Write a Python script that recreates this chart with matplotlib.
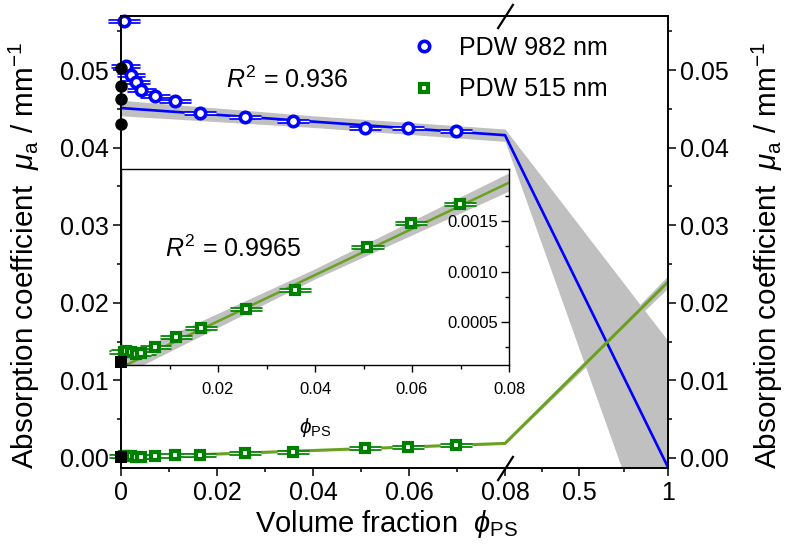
import numpy as np
import matplotlib
matplotlib.use('Agg')
import matplotlib.pyplot as plt
from matplotlib.ticker import FixedLocator, FixedFormatter, NullFormatter
from matplotlib.lines import Line2D
from matplotlib.path import Path

plt.rcParams['font.family'] = ['Liberation Sans', 'DejaVu Sans']
plt.rcParams['mathtext.fontset'] = 'custom'
plt.rcParams['mathtext.rm'] = 'Liberation Sans'
plt.rcParams['mathtext.it'] = 'Liberation Sans:italic'
plt.rcParams['mathtext.bf'] = 'Liberation Sans:bold'

# ---------------- data ----------------
phi_982 = [0.0006, 0.0010, 0.0021, 0.0031, 0.0042, 0.0071, 0.0113, 0.0165, 0.0258, 0.0358, 0.0508, 0.0598, 0.0698]
mu_982 = [0.0563, 0.0505, 0.0493, 0.0484, 0.0474, 0.0467, 0.0460, 0.0445, 0.0440, 0.0434, 0.0425, 0.0425, 0.0422]
xerr_982 = [0.0033, 0.0030, 0.0030, 0.0030, 0.0030, 0.0032, 0.0033, 0.0033, 0.0033, 0.0033, 0.0034, 0.0033, 0.0033]

phi_515 = [0.0006, 0.0010, 0.0021, 0.0031, 0.0042, 0.0071, 0.0113, 0.0165, 0.0258, 0.0358, 0.0508, 0.0598, 0.0698]
mu_515 = [0.00020, 0.00021, 0.00020, 0.00018, 0.00019, 0.00025, 0.00035, 0.00044, 0.00063, 0.00082, 0.00124, 0.00148, 0.00167]
xerr_515 = [0.0030, 0.0030, 0.0030, 0.0030, 0.0030, 0.0032, 0.0033, 0.0033, 0.0033, 0.0033, 0.0034, 0.0033, 0.0033]

water_phi_982 = [0, 0, 0, 0]
water_mu_982 = [0.0502, 0.0479, 0.0463, 0.0430]
water_phi_515 = [0]
water_mu_515 = [0.0001]

fit_x = [0, 0.08, 1]
fit_982 = [0.0451, 0.0416, -0.0012]
fit_515 = [0.00005, 0.00188, 0.0227]

band_x = [0, 0.04, 0.08, 1]
band_982_lo = [0.0441, 0.0426, 0.0408, -0.0180]
band_982_hi = [0.0461, 0.0441, 0.0424, 0.0151]
band_515_lo = [-0.00004, 0.00092, 0.00179, 0.0219]
band_515_hi = [0.00014, 0.00102, 0.00197, 0.0235]

xticks = [0, 0.02, 0.04, 0.06, 0.08, 0.5, 1]
xticklabels = ['0', '0.02', '0.04', '0.06', '0.08', '0.5', '1']
xminor = [0.01, 0.03, 0.05, 0.07, 0.29, 0.75]
yticks = [0.00, 0.01, 0.02, 0.03, 0.04, 0.05]
yticklabels = ['0.00', '0.01', '0.02', '0.03', '0.04', '0.05']
yminor = [0.005, 0.015, 0.025, 0.035, 0.045, 0.055]

in_xticks = [0.02, 0.04, 0.06, 0.08]
in_xticklabels = ['0.02', '0.04', '0.06', '0.08']
in_xminor = [0.01, 0.03, 0.05, 0.07]
in_yticks = [0.0005, 0.0010, 0.0015]
in_yticklabels = ['0.0005', '0.0010', '0.0015']
in_yminor = [0.00025, 0.00075, 0.00125, 0.00175]

# ---------------- style ----------------
BLUE = '#0000ff'
GREEN = '#008000'
LGREEN = '#6aa121'
GREY = '#c0c0c0'

BRK = 0.08
K = 0.0369


def fwd(x):
    x = np.asarray(x, dtype=float)
    return np.where(x <= BRK, x, BRK + (x - BRK) * K)


def inv(y):
    y = np.asarray(y, dtype=float)
    return np.where(y <= BRK, y, BRK + (y - BRK) / K)


fig = plt.figure(figsize=(7.88, 5.51), dpi=100)
W, H = 788, 551
L, R, T, B = 121, 668, 16, 468
ax = fig.add_axes([L / W, 1 - B / H, (R - L) / W, (B - T) / H])
ax.set_xscale('function', functions=(fwd, inv))
ax.set_xlim(0, 1)
ax.set_ylim(-0.00129, 0.05696)


def draw_series(a, phi, mu, xerr, color, marker, ms, mew):
    c1 = a.errorbar(phi, mu, xerr=xerr, fmt='none', ecolor=color, elinewidth=3.4,
                    capsize=0, zorder=3)
    c2 = a.errorbar(phi, mu, xerr=xerr, fmt='none', ecolor='white', elinewidth=0.9,
                    capsize=0, zorder=3.1)
    for c in (c1, c2):
        for art in c.lines[2]:
            art.set_clip_on(False)
    a.plot(phi, mu, ls='none', marker=marker, mfc='white', mec=color, ms=ms, mew=mew,
           zorder=4, clip_on=False)


# main bands & lines
ax.fill_between(band_x, band_982_lo, band_982_hi, color=GREY, lw=0, zorder=1)
ax.fill_between(band_x, band_515_lo, band_515_hi, color=GREY, lw=0, zorder=1)
ax.plot(fit_x, fit_982, color=BLUE, lw=1.9, zorder=2)
ax.plot(fit_x, fit_515, color=LGREEN, lw=2.2, zorder=2)

draw_series(ax, phi_982, mu_982, xerr_982, BLUE, 'o', 7.5, 2.6)
draw_series(ax, phi_515, mu_515, xerr_515, GREEN, 's', 6.3, 3.0)
ax.plot(water_phi_982, water_mu_982, ls='none', marker='o', color='black', ms=9, mew=0,
        zorder=5, clip_on=False)
ax.plot(water_phi_515, water_mu_515, ls='none', marker='s', color='black', ms=8.5, mew=0,
        zorder=5, clip_on=False)

# axes styling
for s in ax.spines.values():
    s.set_linewidth(1.2)
ax.xaxis.set_major_locator(FixedLocator(xticks))
ax.xaxis.set_major_formatter(FixedFormatter(xticklabels))
ax.xaxis.set_minor_locator(FixedLocator(xminor))
ax.xaxis.set_minor_formatter(NullFormatter())
ax.yaxis.set_major_locator(FixedLocator(yticks))
ax.yaxis.set_major_formatter(FixedFormatter(yticklabels))
ax.yaxis.set_minor_locator(FixedLocator(yminor))
ax.yaxis.set_minor_formatter(NullFormatter())
ax.tick_params(which='major', direction='out', length=6, width=1.1, labelsize=18, pad=3)
ax.tick_params(which='minor', direction='out', length=3.2, width=1.1)
ax.tick_params(top=False, which='both')

ax2 = ax.twinx()
ax2.set_ylim(ax.get_ylim())
ax2.yaxis.set_major_locator(FixedLocator(yticks))
ax2.yaxis.set_major_formatter(FixedFormatter(yticklabels))
ax2.yaxis.set_minor_locator(FixedLocator(yminor))
ax2.yaxis.set_minor_formatter(NullFormatter())
ax2.tick_params(which='major', direction='out', length=6, width=1.1, labelsize=18, pad=3)
ax2.tick_params(which='minor', direction='out', length=3.2, width=1.1)
for s in ax2.spines.values():
    s.set_linewidth(1.2)

ylab = r'Absorption coefficient  $\mu_{\rm a}$ / mm$^{-1}$'
ax.set_ylabel(ylab, fontsize=21.3)
ax.yaxis.set_label_coords(-0.1444, 0.471)
ax2.set_ylabel(ylab, fontsize=21.3)
ax2.yaxis.set_label_coords(1.150, 0.471)
ax.set_xlabel(r'Volume fraction  $\phi_{\rm PS}$', fontsize=21)
ax.xaxis.set_label_coords(0.485, -0.0885)

# break marks
slash = Path([(-0.64, -1.0), (0.64, 1.0)], [Path.MOVETO, Path.LINETO])
tr = ax.get_xaxis_transform()
ax.plot([BRK], [0], transform=tr, marker=slash, ms=18, mew=1.6, color='black',
        clip_on=False, zorder=6)
ax.plot([BRK], [1], transform=tr, marker=slash, ms=18, mew=1.6, color='black',
        clip_on=False, zorder=6)

# legend
handles = [Line2D([], [], ls='none', marker='o', mfc='white', mec=BLUE, ms=7.5, mew=2.6),
           Line2D([], [], ls='none', marker='s', mfc='white', mec=GREEN, ms=6.3, mew=3.0)]
ax.legend(handles, ['PDW 982 nm', 'PDW 515 nm'], loc='upper left',
          bbox_to_anchor=(0.531, 0.956), frameon=False, fontsize=18,
          handlelength=1.0, handletextpad=0.9, borderpad=0, borderaxespad=0,
          labelspacing=0.7)

ax.text(0.192, 0.841, r'$R^2$ = 0.936', transform=ax.transAxes, fontsize=18,
        ha='left', va='baseline')

# ---------------- inset ----------------
IL, IR, IT, IB = 121, 509, 169, 365
axin = fig.add_axes([IL / W, 1 - IB / H, (IR - IL) / W, (IB - IT) / H])
axin.set_xlim(0, 0.08)
axin.set_ylim(0.0000743, 0.002015)
axin.fill_between(band_x, band_515_lo, band_515_hi, color=GREY, lw=0, zorder=1)
axin.plot(fit_x, fit_515, color=LGREEN, lw=1.8, zorder=2)
draw_series(axin, phi_515, mu_515, xerr_515, GREEN, 's', 6.3, 3.0)
axin.plot(water_phi_515, water_mu_515, ls='none', marker='s', color='black', ms=8.5, mew=0,
          zorder=5, clip_on=False)
for s in axin.spines.values():
    s.set_linewidth(1.0)
axin.xaxis.set_major_locator(FixedLocator(in_xticks))
axin.xaxis.set_major_formatter(FixedFormatter(in_xticklabels))
axin.xaxis.set_minor_locator(FixedLocator(in_xminor))
axin.xaxis.set_minor_formatter(NullFormatter())
axin.yaxis.tick_right()
axin.yaxis.set_major_locator(FixedLocator(in_yticks))
axin.yaxis.set_major_formatter(FixedFormatter(in_yticklabels))
axin.yaxis.set_minor_locator(FixedLocator(in_yminor))
axin.yaxis.set_minor_formatter(NullFormatter())
axin.tick_params(axis='x', which='major', direction='out', length=5, width=1.0,
                 labelsize=12, pad=7)
axin.tick_params(axis='x', which='minor', direction='out', length=3, width=1.0)
axin.tick_params(axis='y', which='major', direction='in', length=5.5, width=1.0,
                 labelsize=12, pad=-8, left=False, right=True)
axin.tick_params(axis='y', which='minor', direction='in', length=3, width=1.0,
                 left=False, right=True)
for lab in axin.get_yticklabels():
    lab.set_horizontalalignment('right')
axin.set_xlabel(r'$\phi_{\rm PS}$', fontsize=15)
axin.xaxis.set_label_coords(0.5, -0.26)
axin.text(0.113, 0.551, r'$R^2$ = 0.9965', transform=axin.transAxes, fontsize=18,
          ha='left', va='baseline')

fig.savefig('out.png', dpi=100)
